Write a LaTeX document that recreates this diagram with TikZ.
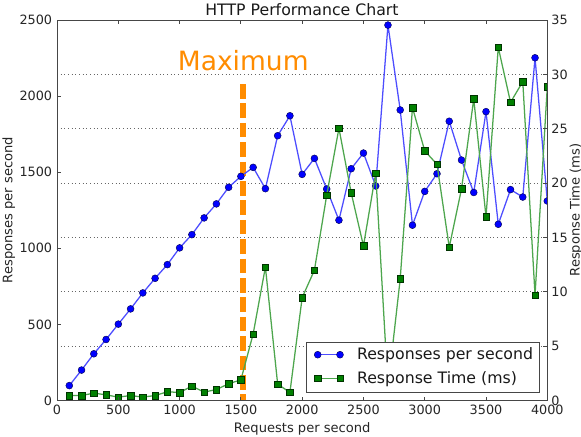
\documentclass[tikz,border=0pt]{standalone}
\usepackage{fontspec}
\setmainfont{DejaVu Sans}
\definecolor{rpsblue}{RGB}{0,0,255}
\definecolor{rpsline}{RGB}{77,77,255}
\definecolor{rtgreen}{RGB}{0,128,0}
\definecolor{rtline}{RGB}{77,166,77}
\definecolor{maxorange}{RGB}{255,140,0}
\definecolor{spinegray}{RGB}{70,70,70}
\tikzset{
  gridline/.style={draw=black!60, line width=0.5pt, dash pattern=on 0.75pt off 2pt},
  spine/.style={draw=spinegray, line width=0.75pt},
  tickmark/.style={draw=spinegray, line width=0.6pt},
  ticklbl/.style={font=\fontsize{9.6}{11}\selectfont, inner sep=0pt, text=black!85},
  axislbl/.style={font=\fontsize{9.8}{11}\selectfont, inner sep=0pt, text=black!85},
  titletext/.style={font=\fontsize{11.8}{14}\selectfont, inner sep=0pt, text=black!90},
  legtext/.style={font=\fontsize{11.8}{14}\selectfont, inner sep=0pt, text=black!90},
  rpsseries/.style={draw=rpsline, line width=0.95pt, line join=round},
  rtseries/.style={draw=rtline, line width=0.95pt, line join=round},
  rpsmark/.style={circle, fill=rpsblue, draw=black!70!blue, line width=0.3pt, inner sep=0pt, minimum size=5.2pt},
  rtmark/.style={rectangle, fill=rtgreen, draw=black!80!green, line width=0.3pt, inner sep=0pt, minimum size=4.9pt},
  maxline/.style={draw=maxorange, line width=4.1pt, dash pattern=on 11pt off 3.55pt},
  legendbox/.style={draw=spinegray, fill=white, line width=0.75pt}
}
\begin{document}
\begin{tikzpicture}[x=0.75pt,y=-0.75pt]
\useasboundingbox (0,0) rectangle (581,436);
\fill[white] (0,0) rectangle (581,436);

% axes frame corners (pixel grid, y grows downward)
\coordinate (axll) at (57.05,400.5);
\coordinate (axur) at (547.3,20);

% horizontal grid of the response-time axis
\foreach \t in {5,10,...,30}
  \draw[gridline] (57.05,{400.5-10.871*\t}) -- (547.3,{400.5-10.871*\t});

\begin{scope}
  \clip (57.05,20) rectangle (547.3,400.5);
  % saturation marker
  \draw[maxline] (242.8,84) -- (242.8,400.5);
  % responses per second (left axis); origin given in absolute units, values grow upward
  \begin{scope}[shift={(42.7875pt,-300.375pt)}, x=0.09192pt, y=0.114135pt]
    \draw[rpsseries] plot coordinates {(100,98) (200,200) (300,307) (400,401) (500,502) (600,602) (700,707) (800,803) (900,893) (1000,1003) (1100,1090) (1200,1200) (1300,1292) (1400,1401) (1500,1473) (1600,1532) (1700,1392) (1800,1740) (1900,1871) (2000,1486) (2100,1591) (2200,1390) (2300,1185) (2400,1523) (2500,1626) (2600,1410) (2700,2467) (2800,1909) (2900,1152) (3000,1374) (3100,1490) (3200,1835) (3300,1580) (3400,1367) (3500,1898) (3600,1158) (3700,1386) (3800,1337) (3900,2252) (4000,1311)};
    \foreach \a/\b [count=\i] in {100/98,200/200,300/307,400/401,500/502,600/602,700/707,800/803,900/893,1000/1003,1100/1090,1200/1200,1300/1292,1400/1401,1500/1473,1600/1532,1700/1392,1800/1740,1900/1871,2000/1486,2100/1591,2200/1390,2300/1185,2400/1523,2500/1626,2600/1410,2700/2467,2800/1909,2900/1152,3000/1374,3100/1490,3200/1835,3300/1580,3400/1367,3500/1898,3600/1158,3700/1386,3800/1337,3900/2252,4000/1311}
      \node[rpsmark] (rps\i) at (\a,\b) {};
  \end{scope}
  % response time in ms (right axis)
  \begin{scope}[shift={(42.7875pt,-300.375pt)}, x=0.09192pt, y=8.153pt]
    \draw[rtseries] plot coordinates {(100,0.46) (200,0.46) (300,0.68) (400,0.52) (500,0.31) (600,0.46) (700,0.31) (800,0.46) (900,0.80) (1000,0.74) (1100,1.32) (1200,0.77) (1300,1.01) (1400,1.54) (1500,1.90) (1600,6.12) (1700,12.28) (1800,1.50) (1900,0.75) (2000,9.47) (2100,11.99) (2200,18.87) (2300,25.04) (2400,19.10) (2500,14.22) (2600,20.90) (2700,1.2) (2800,11.19) (2900,26.94) (3000,22.96) (3100,21.73) (3200,14.10) (3300,19.46) (3400,27.74) (3500,16.89) (3600,32.49) (3700,27.43) (3800,29.33) (3900,9.69) (4000,28.87)};
    \foreach \a/\b [count=\i] in {100/0.46,200/0.46,300/0.68,400/0.52,500/0.31,600/0.46,700/0.31,800/0.46,900/0.80,1000/0.74,1100/1.32,1200/0.77,1300/1.01,1400/1.54,1500/1.90,1600/6.12,1700/12.28,1800/1.50,1900/0.75,2000/9.47,2100/11.99,2200/18.87,2300/25.04,2400/19.10,2500/14.22,2600/20.90,2700/1.2,2800/11.19,2900/26.94,3000/22.96,3100/21.73,3200/14.10,3300/19.46,3400/27.74,3500/16.89,3600/32.49,3700/27.43,3800/29.33,3900/9.69,4000/28.87}
      \node[rtmark] (rt\i) at (\a,\b) {};
  \end{scope}
\end{scope}

% label of the saturation marker
\node[anchor=base west, inner sep=0pt, text=maxorange, font=\fontsize{19.9}{24}\selectfont] (maxlbl) at (177.6,70.6) {Maximum};

% frame
\draw[spine] (axll) rectangle (axur);

% ticks on the request axis (bottom and top, pointing inward)
\foreach \v in {500,1000,...,3500} {
  \draw[tickmark] ({57.05+0.12256*\v},400.5) -- ++(0,-4);
  \draw[tickmark] ({57.05+0.12256*\v},20) -- ++(0,4);
}
% ticks on the left axis
\foreach \v in {500,1000,...,2000}
  \draw[tickmark] (57.05,{400.5-0.15218*\v}) -- ++(4,0);
% ticks on the right axis
\foreach \t in {5,10,...,30}
  \draw[tickmark] (547.3,{400.5-10.871*\t}) -- ++(-4,0);

% tick labels
\foreach \v [count=\i] in {0,500,...,4000}
  \node[ticklbl, anchor=north] (xt\i) at ({57.05+0.12256*\v},405.2) {\v};
\foreach \v [count=\i] in {0,500,...,2500}
  \node[ticklbl, anchor=east] (yl\i) at (52.4,{400.5-0.15218*\v}) {\v};
\foreach \t [count=\i] in {0,5,...,35}
  \node[ticklbl, anchor=west] (yr\i) at (551.2,{400.5-10.871*\t}) {\t};

% axis titles
\node[axislbl, anchor=base] (xlabel) at (302.2,432.4) {Requests per second};
\node[axislbl, anchor=base, rotate=90] (ylabel) at (12.3,210) {Responses per second};
\node[axislbl, anchor=base, rotate=90] (rlabel) at (579.6,210) {Response Time (ms)};

% chart title
\node[titletext, anchor=base] (title) at (302,15.3) {HTTP Performance Chart};

% legend
\draw[legendbox] (306.7,342.7) rectangle (539.3,392.7);
\coordinate (lbA) at (317.7,354.7);
\coordinate (lbB) at (340,354.7);
\coordinate (lgA) at (317.7,378.3);
\coordinate (lgB) at (340,378.3);
\draw[rpsseries] (lbA) -- (lbB);
\node[rpsmark] (legb1) at (lbA) {};
\node[rpsmark] (legb2) at (lbB) {};
\draw[rtseries] (lgA) -- (lgB);
\node[rtmark] (legg1) at (lgA) {};
\node[rtmark] (legg2) at (lgB) {};
\node[legtext, anchor=base west] (legt1) at (356.8,359.3) {Responses per second};
\node[legtext, anchor=base west] (legt2) at (356.8,383.1) {Response Time (ms)};
\end{tikzpicture}
\end{document}
